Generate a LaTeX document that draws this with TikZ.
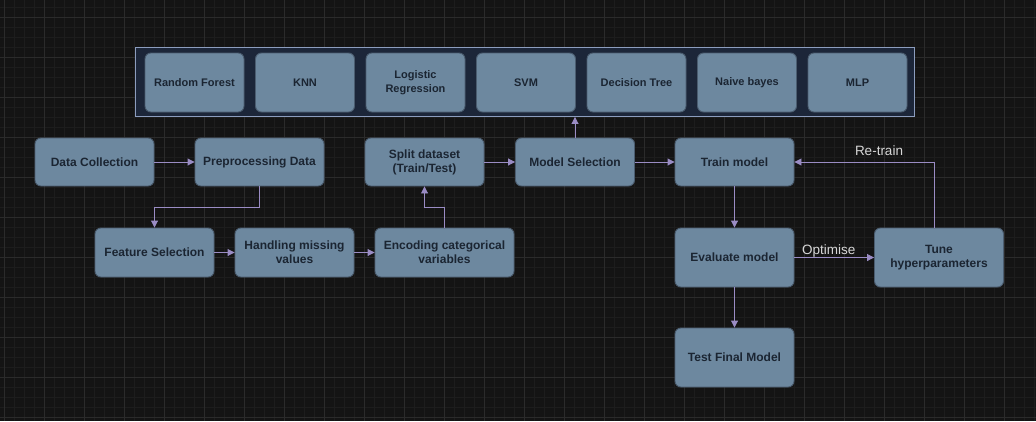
\documentclass[tikz,border=0pt]{standalone}
\usepackage{fontspec}
\setmainfont{Liberation Sans}
\usetikzlibrary{arrows.meta}
\definecolor{bg}{HTML}{141414}
\definecolor{gminor}{HTML}{1D1D1D}
\definecolor{gmajor}{HTML}{2B2B2B}
\definecolor{boxfill}{HTML}{6D889F}
\definecolor{boxline}{HTML}{4B5D70}
\definecolor{boxtext}{HTML}{1B2532}
\definecolor{contfill}{HTML}{1C2639}
\definecolor{contline}{HTML}{8C9DBE}
\definecolor{arrowc}{HTML}{9A8CC4}
\definecolor{labelc}{HTML}{D8D8D8}
\begin{document}
\begin{tikzpicture}[x=1pt,y=-1pt,
  stepbox/.style={draw=boxline,line width=0.9pt,fill=boxfill,rounded corners=6pt,
    text=boxtext,font=\bfseries\fontsize{12}{14}\selectfont,align=center,
    inner sep=0pt,anchor=center},
  algbox/.style={stepbox,minimum width=99pt,minimum height=59pt,
    font=\bfseries\fontsize{11}{13.5}\selectfont},
  conn/.style={draw=arrowc,line width=0.9pt,-{Triangle[length=7pt,width=7pt]}},
  lbl/.style={text=labelc,font=\fontsize{13.5}{15}\selectfont,inner sep=1pt}]
\useasboundingbox (0,0) rectangle (1036,421);
\fill[bg] (0,0) rectangle (1036,421);
\foreach \x in {4.7,14.7,...,1036} \draw[gminor,line width=0.5pt] (\x,0) -- (\x,421);
\foreach \y in {7.3,17.3,...,421} \draw[gminor,line width=0.5pt] (0,\y) -- (1036,\y);
\foreach \x in {4.7,44.7,...,1036} \draw[gmajor,line width=0.6pt] (\x,0) -- (\x,421);
\foreach \y in {17.3,57.3,...,421} \draw[gmajor,line width=0.6pt] (0,\y) -- (1036,\y);

% container of algorithms
\node[draw=contline,fill=contfill,line width=0.9pt,minimum width=779pt,minimum height=69pt,inner sep=0pt,anchor=center] (cont) at (524.5,82) {};
\node[algbox] (rf) at (194.5,82.5) {Random Forest};
\node[algbox] (knn) at (305,82.5) {KNN};
\node[algbox] (lr) at (415.5,82.5) {Logistic\\Regression};
\node[algbox] (svm) at (526,82.5) {SVM};
\node[algbox] (dt) at (636.5,82.5) {Decision Tree};
\node[algbox] (nb) at (747,82.5) {Naive bayes};
\node[algbox] (mlp) at (857.5,82.5) {MLP};

% pipeline
\node[stepbox,minimum width=119pt,minimum height=48pt] (dc) at (94.5,162) {Data Collection};
\node[stepbox,minimum width=129pt,minimum height=48pt] (pp) at (259.5,162) {Preprocessing Data};
\node[stepbox,minimum width=119pt,minimum height=48pt] (sp) at (424.5,162) {Split dataset\\(Train/Test)};
\node[stepbox,minimum width=119pt,minimum height=48pt] (ms) at (575,162) {Model Selection};
\node[stepbox,minimum width=119pt,minimum height=48pt] (tr) at (734.5,162) {Train model};
\node[stepbox,minimum width=119pt,minimum height=49pt] (fs) at (154.5,252.5) {Feature Selection};
\node[stepbox,minimum width=119pt,minimum height=49pt] (hm) at (294.5,252.5) {Handling missing\\values};
\node[stepbox,minimum width=139pt,minimum height=49pt] (en) at (444.5,252.5) {Encoding categorical\\variables};
\node[stepbox,minimum width=119pt,minimum height=59pt] (ev) at (734.5,257.5) {Evaluate model};
\node[stepbox,minimum width=129pt,minimum height=59pt] (tu) at (939,257.5) {Tune\\hyperparameters};
\node[stepbox,minimum width=119pt,minimum height=59pt] (tf) at (734.5,357.5) {Test Final Model};

% connectors
\draw[conn] (dc) -- (pp);
\draw[conn] (pp.south) -- (259.5,207) -| (fs.north);
\draw[conn] (fs) -- (hm);
\draw[conn] (hm) -- (en);
\draw[conn] (en.north) -- (444.5,207) -| (sp.south);
\draw[conn] (sp) -- (ms);
\draw[conn] (ms) -- (tr);
\draw[conn] (ms.north) -- (ms.north |- cont.south);
\draw[conn] (tr) -- (ev);
\draw[conn] (ev) -- (tf);
\draw[conn] (ev.east |- tu.west) -- (tu.west) node[lbl,pos=0.43,above=-1pt] (opt) {Optimise};
\coordinate (rt) at (934.3,162);
\draw[conn] (tu.north -| rt) -- (rt) -- (tr.east);
\node[lbl] (rtl) at (879,151) {Re-train};
\end{tikzpicture}
\end{document}
